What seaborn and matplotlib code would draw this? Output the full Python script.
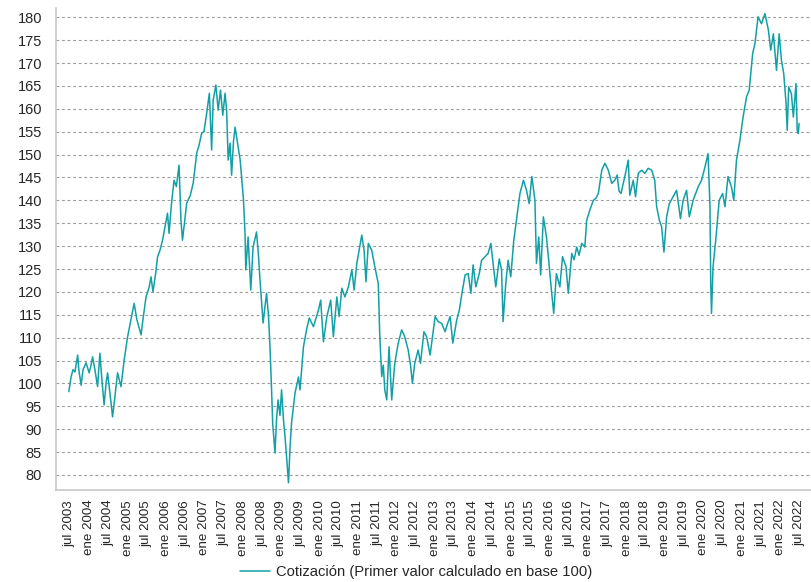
import pandas as pd
import matplotlib.pyplot as plt
import matplotlib.dates as mdates
import numpy as np
import seaborn as sns

sns.set_style('white')
plt.rcParams['font.family'] = ['Liberation Sans', 'DejaVu Sans']
plt.rcParams['font.size'] = 10

#%% Data (fecha en años decimales, cotización en base 100)
fechas = [2003.47, 2003.53, 2003.58, 2003.63, 2003.70, 2003.73, 2003.79, 2003.84, 2003.92,
          2004.00, 2004.05, 2004.09, 2004.15, 2004.22, 2004.28, 2004.33, 2004.39, 2004.44,
          2004.48, 2004.54, 2004.61, 2004.67, 2004.74, 2004.78, 2004.83, 2004.91,
          2005.00, 2005.09, 2005.17, 2005.24, 2005.35, 2005.40, 2005.48, 2005.56, 2005.61,
          2005.66, 2005.73, 2005.78, 2005.84, 2005.91, 2005.97,
          2006.04, 2006.08, 2006.14, 2006.21, 2006.27, 2006.34, 2006.39, 2006.43, 2006.48,
          2006.54, 2006.63, 2006.71, 2006.80, 2006.86, 2006.93, 2006.99,
          2007.06, 2007.13, 2007.19, 2007.23, 2007.30, 2007.36, 2007.42, 2007.48, 2007.54,
          2007.58, 2007.62, 2007.67, 2007.71, 2007.76, 2007.80, 2007.88, 2007.93, 2007.97,
          2008.02, 2008.06, 2008.08, 2008.14, 2008.21, 2008.27, 2008.36, 2008.41, 2008.45,
          2008.49, 2008.53, 2008.62, 2008.67, 2008.71, 2008.75, 2008.78, 2008.84, 2008.88,
          2008.92, 2008.97,
          2009.01, 2009.06, 2009.10, 2009.14, 2009.19, 2009.23, 2009.27, 2009.36, 2009.45,
          2009.49, 2009.58, 2009.66, 2009.73, 2009.84, 2009.97,
          2010.03, 2010.10, 2010.19, 2010.29, 2010.36, 2010.45, 2010.51, 2010.58, 2010.66,
          2010.75, 2010.84, 2010.90, 2010.97,
          2011.03, 2011.10, 2011.16, 2011.21, 2011.27, 2011.36, 2011.44, 2011.53, 2011.57,
          2011.62, 2011.66, 2011.70, 2011.75, 2011.81, 2011.88, 2011.96,
          2012.05, 2012.14, 2012.22, 2012.31, 2012.37, 2012.42, 2012.48, 2012.57, 2012.63,
          2012.72, 2012.79, 2012.88, 2012.94,
          2013.01, 2013.09, 2013.18, 2013.27, 2013.33, 2013.40, 2013.47, 2013.57, 2013.64,
          2013.70, 2013.79, 2013.87, 2013.94,
          2014.00, 2014.07, 2014.16, 2014.22, 2014.31, 2014.39, 2014.46, 2014.52, 2014.59,
          2014.68, 2014.74, 2014.78, 2014.85, 2014.91, 2014.98,
          2015.06, 2015.15, 2015.22, 2015.31, 2015.39, 2015.46, 2015.53, 2015.61, 2015.65,
          2015.71, 2015.76, 2015.83, 2015.91, 2015.96,
          2016.04, 2016.10, 2016.17, 2016.26, 2016.33, 2016.42, 2016.48, 2016.57, 2016.63,
          2016.70, 2016.76, 2016.83, 2016.91, 2016.96,
          2017.04, 2017.13, 2017.20, 2017.26, 2017.35, 2017.43, 2017.52, 2017.61, 2017.69,
          2017.75, 2017.80, 2017.85, 2017.95,
          2018.04, 2018.08, 2018.17, 2018.23, 2018.30, 2018.39, 2018.47, 2018.56, 2018.65,
          2018.73, 2018.78, 2018.85, 2018.91, 2018.97,
          2019.04, 2019.11, 2019.21, 2019.30, 2019.40, 2019.47, 2019.56, 2019.63, 2019.73,
          2019.86, 2019.95,
          2020.04, 2020.12, 2020.17, 2020.19, 2020.21, 2020.25, 2020.32, 2020.41, 2020.50,
          2020.56, 2020.64, 2020.73, 2020.79, 2020.86, 2020.95,
          2021.03, 2021.12, 2021.19, 2021.28, 2021.34, 2021.42, 2021.51, 2021.60, 2021.69,
          2021.75, 2021.82, 2021.90, 2021.97,
          2022.03, 2022.09, 2022.15, 2022.18, 2022.22, 2022.29, 2022.34, 2022.41, 2022.44,
          2022.47, 2022.49]

cotizacion = [98.2, 101.5, 103.0, 102.5, 106.2, 103.0, 99.6, 103.0, 104.5,
              102.3, 104.0, 105.8, 103.0, 99.3, 106.6, 101.0, 95.3, 100.0,
              102.3, 98.0, 92.7, 97.0, 102.3, 101.0, 99.3, 105.0,
              110.2, 114.0, 117.5, 114.0, 110.6, 114.0, 118.9, 121.0, 123.3,
              120.0, 124.0, 127.7, 129.0, 131.3, 134.0,
              137.2, 132.8, 139.0, 144.4, 143.0, 147.7, 135.7, 131.3, 135.0,
              139.4, 141.0, 143.8, 150.3, 152.0, 154.7, 155.0,
              159.0, 163.4, 151.0, 161.9, 165.2, 159.7, 164.1, 158.6, 163.4,
              159.7, 148.8, 152.5, 145.5, 153.0, 156.0, 151.6, 149.0, 145.1,
              140.0, 132.8, 124.8, 132.0, 120.4, 129.8, 133.1, 128.0, 122.6,
              118.0, 113.2, 119.7, 115.0, 108.0, 99.0, 91.4, 84.8, 92.0,
              96.4, 93.0,
              98.6, 92.0, 88.3, 84.0, 78.3, 86.0, 91.4, 97.9, 101.4,
              98.6, 108.0, 111.7, 114.3, 112.4, 116.0,
              118.2, 109.1, 114.6, 118.2, 110.2, 118.9, 114.6, 120.8, 118.9,
              121.1, 124.8, 120.4, 126.2,
              129.1, 132.4, 129.1, 122.2, 130.6, 129.1, 125.5, 121.8, 110.2,
              101.5, 104.0, 98.6, 96.4, 108.0, 96.4, 104.4,
              108.8, 111.7, 110.2, 107.3, 104.0, 100.0, 104.4, 107.3, 104.4,
              111.3, 110.2, 106.2, 110.0,
              114.6, 113.5, 113.1, 111.3, 113.0, 114.6, 108.8, 113.8, 116.0,
              119.3, 123.7, 124.0, 119.7,
              125.9, 121.1, 124.0, 126.9, 127.7, 128.4, 130.6, 126.2, 121.1,
              127.2, 124.8, 113.5, 121.8, 126.9, 123.3,
              131.3, 137.1, 141.5, 144.4, 142.2, 139.3, 145.2, 140.0, 126.2,
              132.0, 123.7, 136.4, 132.0, 127.7,
              120.4, 115.3, 124.0, 121.1, 127.7, 125.5, 119.7, 128.4, 127.0,
              129.8, 128.0, 130.6, 129.8, 135.7,
              137.9, 140.0, 140.5, 141.5, 146.6, 148.1, 146.6, 143.7, 144.4,
              145.5, 142.0, 141.5, 145.2,
              148.8, 141.1, 144.4, 140.8, 145.9, 146.6, 145.9, 147.0, 146.6,
              144.4, 138.6, 135.7, 134.2, 128.7,
              136.4, 139.3, 140.8, 142.2, 136.0, 140.0, 142.2, 136.4, 140.0,
              142.9, 144.4,
              147.3, 150.2, 138.6, 121.8, 115.3, 125.5, 131.3, 140.0, 141.5,
              138.6, 145.2, 142.9, 140.0, 148.8, 153.1,
              158.2, 162.6, 164.1, 172.1, 174.3, 180.1, 178.6, 180.8, 177.2,
              172.8, 176.4, 168.4, 176.4,
              170.6, 167.7, 161.2, 155.3, 164.8, 163.3, 158.2, 165.5, 155.3,
              154.6, 156.8]

meses_tick = ['ene', 'jul']
anios_tick = list(range(2003, 2023))
leyenda = 'Cotización (Primer valor calculado en base 100)'
color_linea = '#12a0a6'


#%% Functions
def decimal_to_date(t):
    year = int(np.floor(t))
    start = pd.Timestamp(year=year, month=1, day=1)
    return start + pd.Timedelta(days=(t - year) * 365.25)


df = pd.DataFrame({'Fecha': [decimal_to_date(t) for t in fechas],
                   'Cotizacion': cotizacion})

ticks = []
labels = []
for y in anios_tick:
    for k, m in enumerate(meses_tick):
        d = pd.Timestamp(year=y, month=1 + 6 * k, day=1)
        if pd.Timestamp('2003-07-01') <= d <= pd.Timestamp('2022-07-01'):
            ticks.append(d)
            labels.append(m + ' ' + str(y))

fig = plt.figure(figsize=(8.11, 5.82), dpi=100)
ax = fig.add_axes([0.069, 0.158, 0.931, 0.828])
sns.lineplot(data=df, x='Fecha', y='Cotizacion', ax=ax, color=color_linea,
             linewidth=1.1, label=leyenda, legend=False)

ax.set_xlim(decimal_to_date(2003.135), decimal_to_date(2022.80))
ax.set_ylim(76.7, 182.0)
ax.set_yticks(np.arange(80, 181, 5))
ax.set_xticks(ticks)
ax.set_xticklabels(labels, rotation=90)
ax.set_xlabel('')
ax.set_ylabel('')

ax.grid(axis='y', color='#9a9a9a', linestyle=(0, (2.5, 2.5)), linewidth=0.8)
ax.grid(axis='x', visible=False)
for s in ['top', 'right']:
    ax.spines[s].set_visible(False)
for s in ['left', 'bottom']:
    ax.spines[s].set_color('#c8c8c8')
    ax.spines[s].set_linewidth(1.2)
ax.tick_params(axis='x', length=4, color='#c8c8c8', labelsize=9.6, pad=3)
ax.tick_params(axis='y', length=0, labelsize=10.5, pad=10)

fig.legend(*ax.get_legend_handles_labels(), loc='center',
           bbox_to_anchor=(0.513, 0.017), frameon=False, fontsize=10.6,
           handlelength=2.0, handletextpad=0.4)

fig.savefig('out.png', dpi=100)
